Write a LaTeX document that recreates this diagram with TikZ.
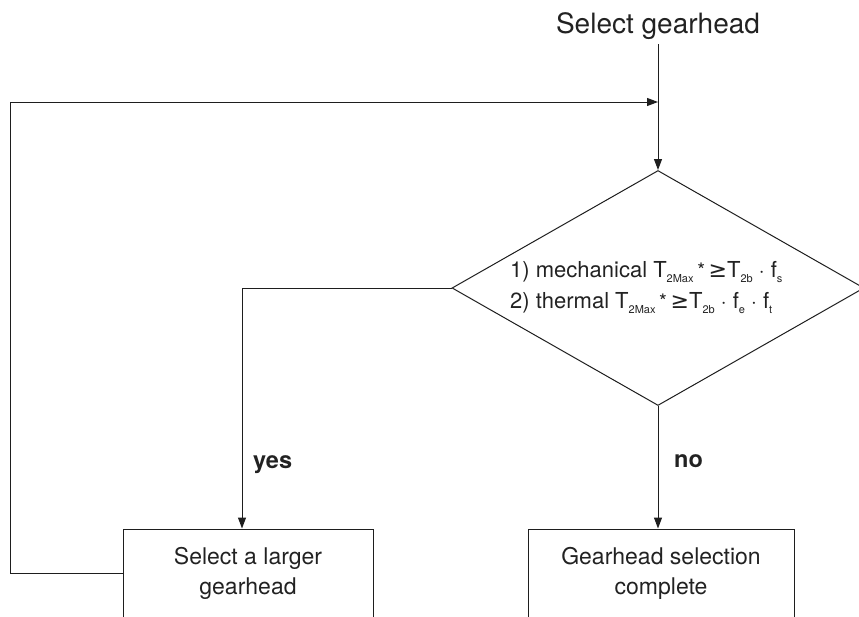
\documentclass[tikz,border=0pt]{standalone}
\usepackage{fontspec}
\setmainfont{TeX Gyre Heros}
\newfontfamily\symfont{DejaVu Sans}
\usetikzlibrary{shapes.geometric,arrows.meta}
\definecolor{ln}{HTML}{1E1E1E}
\definecolor{tx}{HTML}{222222}
\newcommand\sbx[1]{\raisebox{-5pt}{\fontsize{11}{11}\selectfont #1}}
\newcommand\mygeq{{\symfont ≥}}
\begin{document}
\begin{tikzpicture}[x=1pt,y=-1pt,
  line/.style={draw=ln,line width=1pt},
  arr/.style={line,-{Triangle[length=11pt,width=8pt]}},
  boxnode/.style={draw=ln,line width=1pt,rectangle,minimum height=88pt,inner sep=0pt,
    text=tx,align=center,font=\fontsize{23}{30}\selectfont},
  lbl/.style={text=tx,font=\bfseries\fontsize{23.5}{26}\selectfont,inner sep=0pt}]
\useasboundingbox (0,0) rectangle (859,616);
\clip (0,0) rectangle (859,616);
\node[text=tx,font=\fontsize{28}{32}\selectfont,anchor=base,inner sep=5pt] (title) at (658,33) {Select gearhead};
\node[diamond,draw=ln,line width=1pt,minimum width=412pt,minimum height=235pt,inner sep=0pt] (d) at (658,288) {};
\node[text=tx,anchor=west,align=left,inner sep=0pt,font=\fontsize{22}{31}\selectfont] (dt) at (510,288)
  {1) mechanical T\sbx{2Max}\,{\fontsize{20}{20}\selectfont*}\,\mygeq T\sbx{2b} $\cdot$ f\sbx{s}\\
   2) thermal T\sbx{2Max}\,{\fontsize{20}{20}\selectfont*}\,\mygeq T\sbx{2b} $\cdot$ f\sbx{e} $\cdot$ f\sbx{t}};
\node[boxnode,minimum width=250pt] (b1) at (248,573) {Select a larger\\gearhead};
\node[boxnode,minimum width=266pt] (b2) at (661,573) {Gearhead selection\\complete};
\coordinate (m) at (658,102);
\coordinate (c) at (10,102);
\draw[arr] (title.south) -- (d.north);
\draw[arr] (d.west) -| ([xshift=-6pt]b1.north);
\draw[arr] (d.south) -- (d.south |- b2.north);
\draw[arr] (b1.west) -| (c) -- (m);
\node[lbl,anchor=base west] (yes) at (253,468) {yes};
\node[lbl,anchor=base west] (no) at (674,467) {no};
\end{tikzpicture}
\end{document}
